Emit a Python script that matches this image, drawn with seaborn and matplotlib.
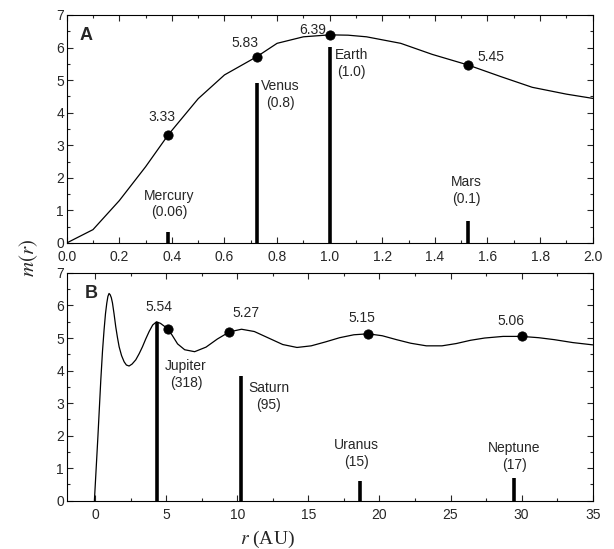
import pandas as pd
import seaborn as sns
import matplotlib.pyplot as plt
from matplotlib.ticker import MultipleLocator

# ---- panel A: inner planets ----
r_inner = [0.0, 0.1, 0.2, 0.3, 0.387, 0.5, 0.6, 0.723, 0.8, 0.9, 1.0, 1.07, 1.14,
           1.27, 1.39, 1.524, 1.65, 1.77, 1.9, 2.0]
m_inner = [0.0, 0.41, 1.3, 2.34, 3.33, 4.43, 5.16, 5.72, 6.13, 6.33, 6.39, 6.38, 6.33,
           6.13, 5.79, 5.47, 5.11, 4.78, 4.57, 4.44]

inner_names = ["Mercury", "Venus", "Earth", "Mars"]
inner_mass = ["0.06", "0.8", "1.0", "0.1"]
inner_bar_x = [0.387, 0.722, 1.0, 1.524]
inner_bar_h = [0.35, 4.92, 6.03, 0.66]
inner_dot_x = [0.387, 0.723, 1.0, 1.524]
inner_dot_y = [3.33, 5.72, 6.39, 5.47]
inner_dot_lbl = ["3.33", "5.83", "6.39", "5.45"]

# ---- panel B: outer planets ----
r_outer = [-0.05, 0.2, 0.4, 0.52, 0.63, 0.73, 0.82, 0.9, 0.98, 1.06, 1.14, 1.22,
           1.33, 1.45, 1.57, 1.69, 1.86, 2.04, 2.2, 2.39, 2.6, 2.86, 3.1, 3.33,
           3.56, 3.8, 4.05, 4.32, 4.6, 4.97, 5.4, 5.8, 6.3, 7.0, 7.8, 8.6,
           9.45, 10.3, 11.2, 12.2, 13.2, 14.2, 15.2, 16.2, 17.2, 18.2, 19.2, 20.2,
           21.2, 22.2, 23.3, 24.4, 25.4, 26.4, 27.4, 28.7, 30.0, 31.2, 32.3, 33.6, 35.0]
m_outer = [0.0, 2.0, 3.71, 4.6, 5.25, 5.75, 6.07, 6.28, 6.37, 6.33, 6.24, 6.08,
           5.75, 5.35, 5.02, 4.73, 4.46, 4.27, 4.17, 4.14, 4.2, 4.33, 4.52, 4.73,
           4.97, 5.2, 5.4, 5.5, 5.45, 5.33, 5.1, 4.82, 4.64, 4.58, 4.72, 4.97,
           5.19, 5.27, 5.2, 5.0, 4.8, 4.71, 4.76, 4.88, 5.01, 5.1, 5.13, 5.07,
           4.95, 4.84, 4.76, 4.76, 4.83, 4.93, 5.0, 5.05, 5.05, 5.01, 4.95, 4.86, 4.79]

outer_names = ["Jupiter", "Saturn", "Uranus", "Neptune"]
outer_mass = ["318", "95", "15", "17"]
outer_bar_x = [4.34, 10.23, 18.6, 29.45]
outer_bar_h = [5.5, 3.82, 0.62, 0.69]
outer_dot_x = [5.16, 9.45, 19.2, 30.0]
outer_dot_y = [5.27, 5.19, 5.13, 5.05]
outer_peak_lbl = ["5.54", "5.27", "5.15", "5.06"]

sns.set_style("ticks")
plt.rcParams['font.family'] = ['Liberation Sans', 'DejaVu Sans']
plt.rcParams['mathtext.fontset'] = 'stix'
plt.rcParams['xtick.direction'] = 'in'
plt.rcParams['ytick.direction'] = 'in'

fig = plt.figure(figsize=(6.14, 5.49), dpi=100)
axA = fig.add_axes([0.1086, 0.5574, 0.8567, 0.4153])
axB = fig.add_axes([0.1086, 0.0880, 0.8567, 0.4148])

curveA = pd.DataFrame({"r": r_inner, "m": m_inner})
curveB = pd.DataFrame({"r": r_outer, "m": m_outer})

sns.lineplot(data=curveA, x="r", y="m", ax=axA, color="black", lw=0.9,
             sort=False, estimator=None)
sns.scatterplot(x=inner_dot_x, y=inner_dot_y, ax=axA, color="black", s=45,
                edgecolor="black", zorder=5)
axA.vlines(inner_bar_x, 0, inner_bar_h, color="black", lw=2.6)

sns.lineplot(data=curveB, x="r", y="m", ax=axB, color="black", lw=0.9,
             sort=False, estimator=None)
sns.scatterplot(x=outer_dot_x, y=outer_dot_y, ax=axB, color="black", s=45,
                edgecolor="black", zorder=5)
axB.vlines(outer_bar_x, 0, outer_bar_h, color="black", lw=2.6)

fs = 10
# value labels, panel A
axA.text(0.361, 3.87, inner_dot_lbl[0], ha='center', va='center', fontsize=fs)
axA.text(0.678, 6.15, inner_dot_lbl[1], ha='center', va='center', fontsize=fs)
axA.text(0.985, 6.54, inner_dot_lbl[2], ha='right', va='center', fontsize=fs)
axA.text(1.56, 5.70, inner_dot_lbl[3], ha='left', va='center', fontsize=fs)

# planet labels, panel A
planet_pos_A = [(0.39, 1.2, 'center'), (0.738, 4.55, 'left'),
                (1.018, 5.52, 'left'), (1.52, 1.62, 'center')]
for name, mass, (px, py, ha) in zip(inner_names, inner_mass, planet_pos_A):
    axA.text(px, py, f"{name}\n({mass})", ha=ha, va='center', fontsize=fs,
             multialignment='center', linespacing=1.25)

# value labels, panel B
axB.text(4.48, 5.96, outer_peak_lbl[0], ha='center', va='center', fontsize=fs)
axB.text(10.58, 5.76, outer_peak_lbl[1], ha='center', va='center', fontsize=fs)
axB.text(18.73, 5.61, outer_peak_lbl[2], ha='center', va='center', fontsize=fs)
axB.text(29.25, 5.52, outer_peak_lbl[3], ha='center', va='center', fontsize=fs)

planet_pos_B = [(6.4, 3.89), (12.2, 3.21), (18.4, 1.45), (29.5, 1.35)]
for name, mass, (px, py) in zip(outer_names, outer_mass, planet_pos_B):
    axB.text(px, py, f"{name}\n({mass})", ha='center', va='center', fontsize=fs,
             multialignment='center', linespacing=1.25)

axA.text(0.025, 0.91, "A", transform=axA.transAxes, fontsize=13,
         fontweight='bold', va='center', ha='left')
axB.text(0.035, 0.91, "B", transform=axB.transAxes, fontsize=13,
         fontweight='bold', va='center', ha='left')

for ax in (axA, axB):
    ax.set_ylim(0, 7)
    ax.yaxis.set_major_locator(MultipleLocator(1))
    ax.yaxis.set_minor_locator(MultipleLocator(0.5))
    ax.tick_params(which='both', top=True, right=True, labelsize=10,
                   width=0.8)
    ax.tick_params(axis='y', pad=2)
    ax.tick_params(axis='x', pad=5)
    ax.tick_params(which='major', length=4)
    ax.tick_params(which='minor', length=2.5)
    ax.set_xlabel("")
    ax.set_ylabel("")
    for sp in ax.spines.values():
        sp.set_linewidth(0.8)
        sp.set_color("black")

axA.set_xlim(0, 2.0)
axA.xaxis.set_major_locator(MultipleLocator(0.2))
axA.xaxis.set_minor_locator(MultipleLocator(0.1))
axA.xaxis.set_major_formatter(lambda v, p: f"{v:.1f}")

axB.set_xlim(-2, 35)
axB.xaxis.set_major_locator(MultipleLocator(5))
axB.xaxis.set_minor_locator(MultipleLocator(2.5))

fig.text(0.047, 0.53, r"$m(r)$", rotation=90, ha='center', va='center',
         fontsize=15)
fig.text(0.436, 0.017, r"$r$ (AU)", ha='center', va='center', fontsize=14,
         family='Liberation Serif')

fig.savefig("out.png", dpi=100)
